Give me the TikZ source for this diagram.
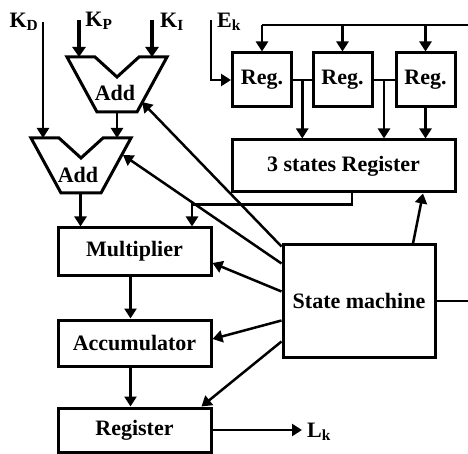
\documentclass[tikz,border=0pt]{standalone}
\usepackage{fontspec}
\setmainfont{Liberation Serif}
\usetikzlibrary{arrows.meta,calc}
\begin{document}
\begin{tikzpicture}[x=1pt,y=-1pt,
  box/.style={draw, line width=3pt, inner sep=0pt, font=\fontsize{22}{24}\selectfont\bfseries},
  ln/.style={line width=2.5pt},
  arr/.style={ln, -{Triangle[width=12pt,length=10pt]}},
  thickarr/.style={line width=4pt, -{Triangle[width=13pt,length=10pt]}},
  lab/.style={font=\fontsize{22}{24}\selectfont\bfseries, inner sep=0pt},
  addshape/.style={draw, line width=3pt, line join=miter}
]
\clip (0,0) rectangle (468,454);
\fill[white] (0,0) rectangle (468,454);

% boxes
\node[box, minimum width=153pt, minimum height=47pt] (mul) at (134.5,251.5) {Multiplier};
\node[box, minimum width=153pt, minimum height=46pt] (acc) at (134.5,343) {Accumulator};
\node[box, minimum width=153pt, minimum height=44pt] (reg) at (134.5,430) {Register};
\node[box, minimum width=152pt, minimum height=112pt] (sm) at (359,301) {State machine};
\node[box, minimum width=223pt, minimum height=52pt] (tsr) at (343.5,166) {3 states Register};
\node[box, minimum width=59pt, minimum height=54pt] (r1) at (262,80) {Reg.};
\node[box, minimum width=59pt, minimum height=54pt] (r2) at (342.5,80) {Reg.};
\node[box, minimum width=59pt, minimum height=54pt] (r3) at (425.5,80) {Reg.};

% adders
\draw[addshape] (67,57) -- (95,57) -- (117,77) -- (139,57) -- (167,57) -- (137,112) -- (97,112) -- cycle;
\node[lab] (addA) at (115,93) {Add};
\draw[addshape] (31,138) -- (59,138) -- (81,158) -- (103,138) -- (131,138) -- (101,193) -- (61,193) -- cycle;
\node[lab] (addB) at (78,175) {Add};
\coordinate (addAinP) at (79,57);
\coordinate (addAinI) at (152,57);
\coordinate (addAout) at (117,112);
\coordinate (addBinD) at (43,138);
\coordinate (addBinA) at (117,138);
\coordinate (addBout) at (80.5,193);
\coordinate (addActl) at (142,102);
\coordinate (addBctl) at (123,155);

% labels
\node[lab] (kd) at (24,22) {K\textsubscript{D}};
\node[lab] (kp) at (99,21) {K\textsubscript{P}};
\node[lab] (ki) at (172,22) {K\textsubscript{I}};
\node[lab] (ek) at (229,22) {E\textsubscript{k}};
\node[lab] (lk) at (319,432) {L\textsubscript{k}};
\coordinate (kdt) at (43,22);
\coordinate (kpt) at (79,20);
\coordinate (kit) at (152,20);
\coordinate (ekt) at (211,20);
\coordinate (lkt) at (302,430);

% inputs to adders
\draw[thickarr] (kpt) -- (addAinP);
\draw[thickarr] (kit) -- (addAinI);
\draw[arr] (kdt) -- (addBinD);
\draw[arr] (addAout) -- (addBinA);
\draw[arr] (addBout) -- ([xshift=-54pt]mul.north);

% datapath
\draw[arr] ([xshift=-4pt]mul.south) -- ([xshift=-4pt]acc.north);
\draw[arr] ([xshift=-4pt]acc.south) -- ([xshift=-4pt]reg.north);
\draw[arr] (reg.east) -- (lkt);

% E_k into registers
\draw[arr] (ekt) |- (r1.west);
\draw[ln] (r1.east) -- (r2.west);
\draw[ln] (r2.east) -- (r3.west);
\coordinate (b1) at ($(r1.east)!0.5!(r2.west)$);
\coordinate (b2) at ($(r2.east)!0.5!(r3.west)$);
\draw[arr] (b1) -- (b1 |- tsr.north);
\draw[arr] (b2) -- (b2 |- tsr.north);
\draw[arr] (r3.south) -- (r3.south |- tsr.north);

% 3 states register to multiplier
\draw[arr] ([xshift=8.5pt]tsr.south) -- ++(0,11) -| ([xshift=57.5pt]mul.north);

% state machine to registers (loop along the right edge)
\coordinate (tr) at (469.5,25);
\draw[ln] (sm.east) -| (tr) -- (r1.north |- tr);
\draw[arr] (r1.north |- tr) -- (r1.north);
\draw[arr] (r2.north |- tr) -- (r2.north);
\draw[arr] (r3.north |- tr) -- (r3.north);

% state machine control arrows
\draw[arr] ([xshift=54pt]sm.north) -- ([xshift=79.5pt]tsr.south);
\draw[arr] ([yshift=-3pt]sm.north west) -- (addActl);
\draw[arr] ([yshift=-20pt]sm.north west) -- (addBctl);
\draw[arr] ([yshift=-48pt]sm.north west) -- ([yshift=-11.5pt]mul.east);
\draw[arr] ([yshift=-77pt]sm.north west) -- ([yshift=4pt]acc.east);
\draw[arr] ([yshift=-98pt]sm.north west) -- ([xshift=-11pt]reg.north east);
\end{tikzpicture}
\end{document}
